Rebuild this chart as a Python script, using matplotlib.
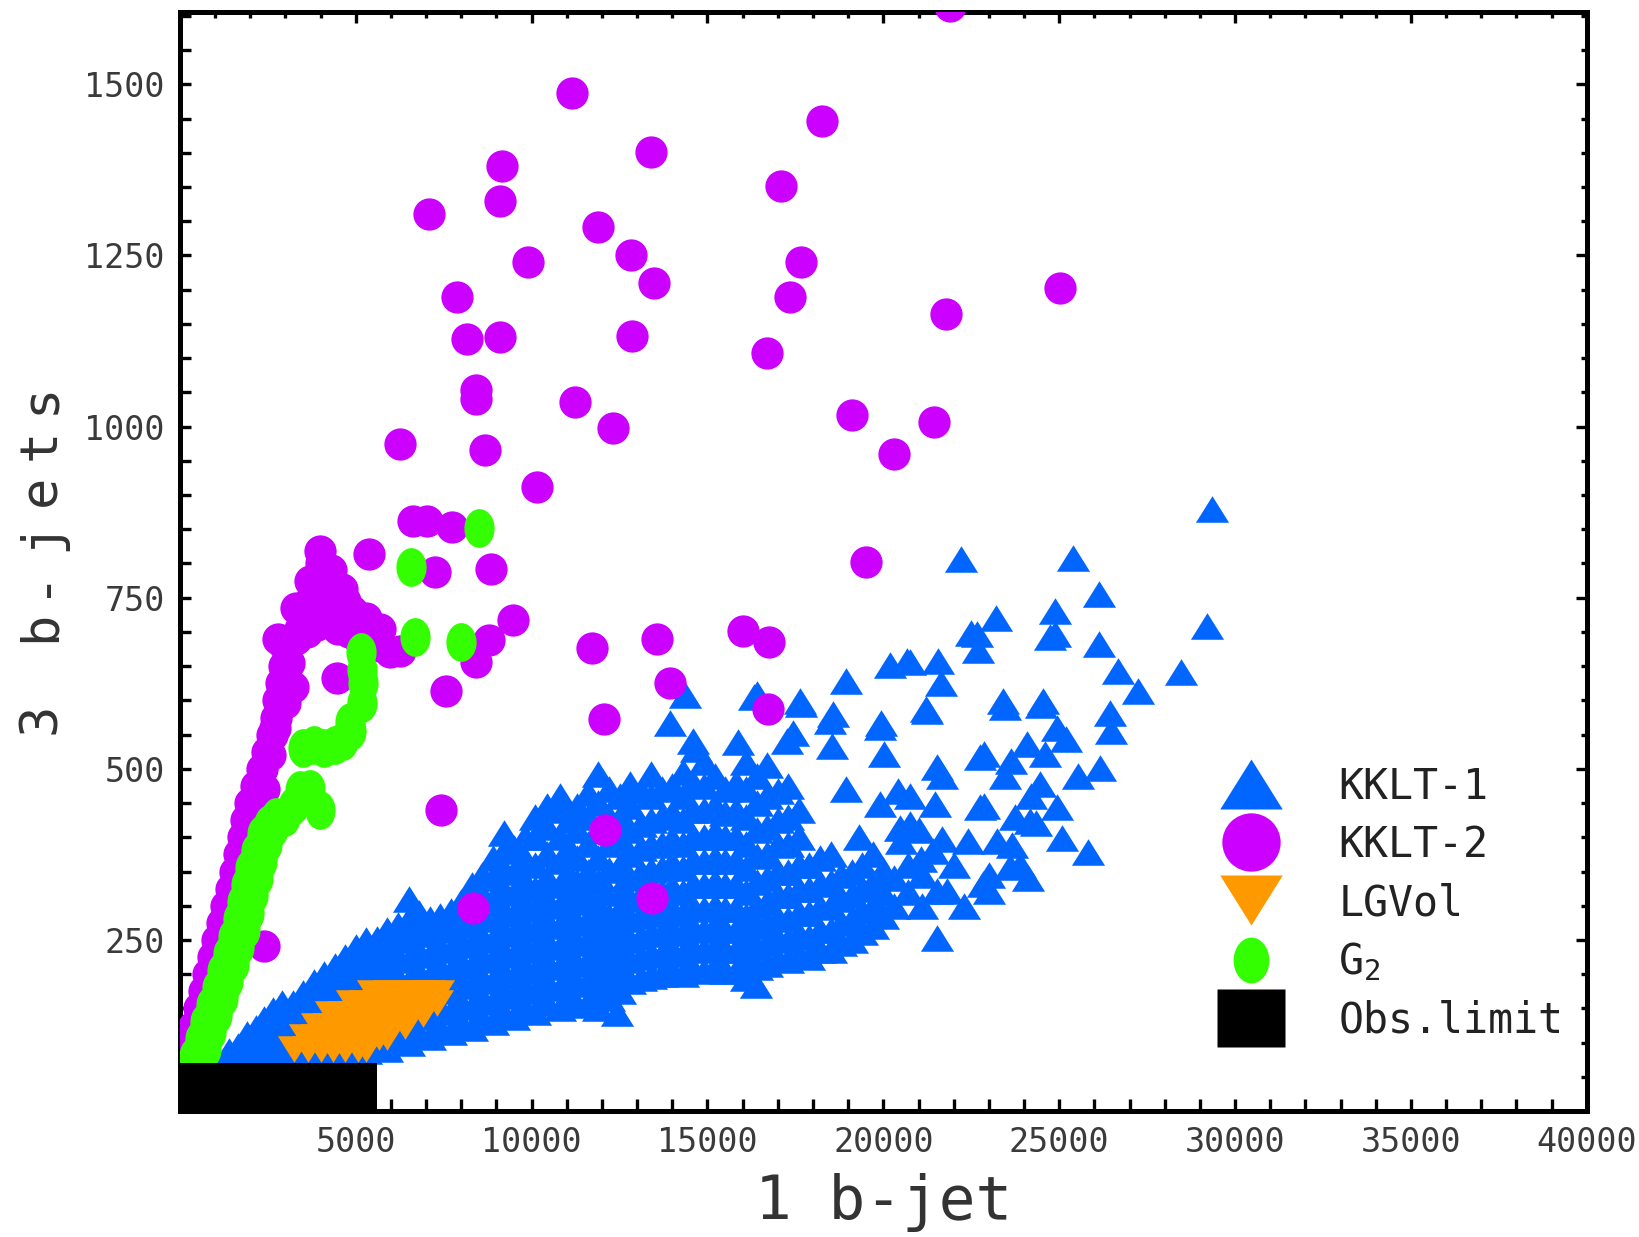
import matplotlib
matplotlib.use("Agg")
import matplotlib.pyplot as plt
import numpy as np
from matplotlib.lines import Line2D
from matplotlib.ticker import MultipleLocator, NullFormatter

plt.rcParams['font.family'] = ['DejaVu Sans Mono']
plt.rcParams['mathtext.fontset'] = 'custom'
plt.rcParams['mathtext.rm'] = 'DejaVu Sans Mono'
plt.rcParams['mathtext.it'] = 'DejaVu Sans Mono'
plt.rcParams['mathtext.bf'] = 'DejaVu Sans Mono:bold'

# colours
BLUE = '#0066ff'
MAGENTA = '#cc00ff'
ORANGE = '#ff9900'
GREEN = '#33ff00'

# KKLT-1, dense part read as columns: (1 b-jet, [3 b-jets ...])
kklt1_cols = [
    (1400, [88]), (1650, [95]),
    (1900, [88, 112]), (2150, [95, 122]),
    (2400, [88, 112, 135]), (2650, [95, 125, 148]),
    (2900, [88, 115, 142, 158]), (3200, [100, 128, 158]),
    (3500, [88, 115, 145, 172]), (3800, [100, 130, 160, 188]),
    (4100, [88, 115, 145, 175, 200]), (4400, [100, 130, 160, 190, 212]),
    (4700, [88, 115, 145, 175, 205, 225]), (5000, [100, 130, 160, 190, 220, 240]),
    (5300, [88, 115, 145, 175, 205, 235, 250]), (5600, [102, 132, 162, 192, 222, 252]),
    (5900, [90, 120, 150, 180, 210, 240, 265]), (6200, [105, 135, 165, 195, 225, 255, 272]),
    (6500, [100, 130, 160, 190, 220, 250, 280, 310]), (6800, [112, 142, 172, 202, 232, 262, 290]),
    (7100, [108, 138, 168, 198, 228, 258, 280]), (7400, [120, 150, 180, 210, 240, 270, 285]),
    (7700, [115, 145, 175, 205, 235, 265, 292]), (8000, [128, 158, 188, 218, 248, 278, 305]),
    (8300, [122, 152, 182, 212, 242, 272, 302, 330]), (8600, [135, 165, 195, 225, 255, 285, 315, 345]),
    (8900, [130, 160, 190, 220, 250, 280, 310, 340, 370]),
    (9200, [142, 172, 202, 232, 262, 292, 322, 352, 380, 406]),
    (9500, [138, 168, 198, 228, 258, 288, 318, 350, 385]),
    (9800, [150, 180, 210, 240, 270, 300, 335, 368, 400]),
    (10100, [145, 175, 205, 235, 265, 295, 325, 360, 400, 430]),
    (10450, [158, 188, 218, 248, 278, 308, 340, 375, 415, 445]),
    (10800, [150, 180, 210, 240, 270, 300, 330, 365, 400, 440, 460]),
    (11050, [162, 192, 222, 252, 282, 312, 345, 385, 425]),
    (11300, [155, 185, 215, 245, 275, 305, 335, 370, 410, 445]),
    (11600, [160, 190, 220, 250, 280, 315, 350, 390, 430, 465]),
    (11900, [150, 180, 210, 240, 270, 300, 335, 370, 410, 450, 492]),
    (12200, [165, 195, 225, 255, 285, 318, 352, 390, 430, 470]),
    (12440, [143]),
    (12500, [175, 205, 235, 265, 295, 325, 360, 395, 430, 460]),
    (12800, [190, 220, 250, 280, 310, 340, 375, 410, 445, 478]),
    (13100, [195, 225, 255, 285, 315, 350, 385, 420, 468]),
    (13400, [198, 228, 258, 288, 320, 352, 388, 425, 460, 492]),
    (13700, [200, 230, 260, 290, 320, 355, 390, 430, 470]),
    (14000, [205, 235, 265, 295, 328, 362, 398, 435, 475]),
    (14300, [200, 230, 260, 290, 320, 355, 390, 425, 460, 495]),
    (14600, [208, 238, 268, 298, 330, 365, 400, 440, 480]),
    (14900, [205, 235, 265, 295, 330, 365, 400, 440, 475, 510]),
    (15200, [210, 240, 270, 300, 335, 370, 408, 445, 490]),
    (15500, [205, 235, 265, 295, 330, 365, 400, 435, 470]),
    (15800, [205, 235, 265, 295, 330, 365, 400, 440, 480]),
    (16100, [195, 225, 255, 285, 320, 355, 390, 430, 470, 510]),
    (16370, [184]),
    (16400, [210, 240, 270, 300, 335, 372, 410, 450, 490]),
    (16700, [215, 245, 275, 305, 340, 375, 415, 460, 505]),
    (17000, [222, 252, 282, 315, 350, 388, 425, 468]),
    (17300, [220, 250, 280, 315, 350, 390, 430, 475]),
    (17600, [228, 258, 290, 325, 360, 400, 440]),
    (17900, [225, 255, 290, 325, 360]),
    (18200, [235, 265, 298, 332, 370]),
    (18500, [235, 265, 300, 335, 375]),
    (18800, [245, 275, 310, 345]),
    (19100, [250, 280, 315, 350]),
    (19400, [262, 292, 325, 360]),
    (19700, [270, 300, 335, 375]),
    (20000, [285, 318, 352]),
]

# KKLT-1, scattered part
kklt1_sparse = [
    (20300, 300), (20300, 340), (20700, 320), (20700, 360), (21100, 300), (21100, 345),
    (21520, 321), (21400, 380), (22000, 360), (20500, 395), (21000, 410),
    (29345, 880), (22200, 807), (25390, 808), (29200, 709), (28450, 642), (26130, 755),
    (24880, 730), (24880, 697), (23210, 720), (22500, 698), (22700, 674), (26130, 682),
    (26670, 643), (27230, 613), (26450, 582), (26480, 556), (26160, 501), (25830, 379),
    (25090, 399), (23660, 389), (21520, 253), (21640, 625), (20770, 656), (20180, 651),
    (18930, 628), (21220, 588), (19940, 567), (20030, 521), (18480, 570), (17650, 594),
    (16310, 605), (17440, 552), (15860, 539), (14370, 608), (13930, 567), (14670, 529),
    (23450, 590), (24490, 593), (24940, 559), (22860, 521), (23450, 490),
    (24190, 460), (23750, 429), (22860, 445), (21670, 490), (20770, 460), (20480, 413),
    (24340, 421), (23900, 360), (23000, 345), (23000, 322), (21820, 322), (21070, 368),
    (21670, 398), (24940, 444), (25540, 490), (24610, 521), (25200, 544),
    (14590, 541), (17260, 541), (20670, 657), (21550, 657), (22660, 697), (24740, 692),
    (16400, 609), (17630, 599), (19900, 561), (18570, 580), (21240, 585), (23400, 599),
    (24540, 599), (24090, 536), (18540, 533), (22750, 517), (21520, 502), (23630, 511),
    (24450, 478), (20410, 468), (21470, 449), (19900, 449), (22750, 444), (24170, 424),
    (20760, 419), (23230, 395), (23600, 356), (22830, 332), (19300, 400), (22300, 300),
    (24100, 340), (22400, 395), (18950, 470),
]

# KKLT-2 (magenta)
kklt2 = [
    # left arc
    (150, 78), (280, 100), (410, 125), (540, 150), (670, 175), (800, 200), (930, 225),
    (1060, 250), (1190, 275), (1320, 300), (1450, 325), (1560, 350), (1670, 375), (1780, 400),
    (1890, 425), (2000, 450), (2160, 475), (2330, 500), (2480, 525), (2620, 550), (2720, 575),
    (2800, 600), (2880, 625), (2950, 650), (2380, 241),
    (2200, 440), (2400, 470), (2550, 520), (2700, 560), (2990, 596), (3200, 620),
    # blob at the top of the arc
    (2800, 690), (3000, 680), (3300, 690), (3600, 700), (3900, 710), (4200, 715), (4500, 705),
    (4800, 700), (5100, 690), (5400, 685), (5700, 680), (5970, 670), (3100, 655), (4460, 633),
    (3300, 735), (3700, 745), (4100, 745), (4500, 740), (4900, 730), (5300, 720), (5700, 705),
    (3600, 740), (3900, 766), (4300, 790), (4000, 800), (3980, 818), (4610, 763), (3810, 758),
    (5370, 814), (6250, 672), (3700, 775), (4200, 760), (4700, 745), (5000, 705), (3400, 705),
    # scattered
    (21900, 1615), (11160, 1488), (18270, 1447), (13390, 1401), (9170, 1381), (9110, 1329),
    (7080, 1311), (17080, 1352), (11900, 1291), (9910, 1240), (12830, 1250), (17650, 1240),
    (13480, 1210), (25030, 1203), (7890, 1190), (17350, 1190), (21780, 1165), (8150, 1128),
    (9110, 1131), (12860, 1133), (16700, 1108), (8420, 1053), (8420, 1041), (11220, 1036),
    (12320, 998), (6250, 975), (8660, 966), (19110, 1017), (21430, 1006), (20300, 960),
    (10150, 912), (6640, 862), (7020, 862), (7740, 853), (7260, 787), (8840, 792),
    (19520, 802), (9460, 718), (8780, 688), (8420, 656), (11730, 677), (13570, 689),
    (16010, 701), (16760, 686), (7560, 613), (13930, 625), (12050, 573), (16730, 587),
    (7410, 440), (12080, 411), (8330, 296), (13420, 311),
]

# LGVol (orange), rows: (3 b-jets, [1 b-jet ...])
lgvol_rows = [
    (90, [3250, 3650, 4000, 4350, 4700, 5050, 5300]),
    (108, [3550, 3900, 4250, 4600, 4950, 5300, 5650, 5900]),
    (125, [3900, 4250, 4600, 4950, 5300, 5650, 6000, 6400]),
    (142, [4300, 4650, 5000, 5350, 5700, 6050, 6400, 6900]),
    (158, [4900, 5250, 5600, 5950, 6300, 6650, 7000, 7300]),
    (172, [5500, 5950, 6400, 6800, 7080, 7350]),
]

# G2 (green)
g2 = [
    (400, 80), (560, 105), (720, 130), (880, 155), (1040, 180), (1200, 205), (1360, 230),
    (1520, 255), (1640, 280), (1760, 305), (1880, 330), (2000, 355), (2150, 380),
    (2320, 405), (2520, 420), (2720, 430), (3000, 430), (3200, 445), (3450, 460),
    (730, 90), (890, 115), (1050, 140), (1210, 165), (1370, 190), (1530, 215), (1690, 240),
    (1850, 265), (1970, 290), (2090, 315), (2210, 340), (2330, 365), (2480, 390), (2650, 412),
    (3410, 469), (3980, 440), (3700, 470), (3500, 530), (3800, 535), (4100, 530), (4400, 535),
    (4650, 540), (4850, 555), (4830, 568), (5170, 596), (5200, 625), (5170, 644), (5150, 670),
    (6570, 795), (6680, 693), (7990, 685), (8500, 852),
]

# observational limit box (width in 1 b-jet, height in 3 b-jets)
obs_limit = (5600, 70)

labels = ['KKLT-1', 'KKLT-2', 'LGVol', 'G$_2$', 'Obs.limit']
x_ticks = [5000, 10000, 15000, 20000, 25000, 30000, 35000, 40000]
y_ticks = [250, 500, 750, 1000, 1250, 1500]

kklt1 = np.array([(x, y) for x, ys in kklt1_cols for y in ys] + kklt1_sparse)
kklt2 = np.array(kklt2)
lgvol = np.array([(x, y) for y, xs in lgvol_rows for x in xs])
g2 = np.array(g2)

# marker shapes
tri_up = [(-1, -0.8), (1, -0.8), (0, 0.8)]
tri_down = [(-1, 0.8), (1, 0.8), (0, -0.8)]
t = np.linspace(0, 2 * np.pi, 40)
ellipse = list(zip(0.78 * np.cos(t), np.sin(t)))
rect = [(-1, -0.85), (1, -0.85), (1, 0.85), (-1, 0.85)]

fig = plt.figure(figsize=(16.39, 12.37), dpi=100)
ax = fig.add_axes([0.1098, 0.1018, 0.8583, 0.8881])

ax.scatter(kklt1[:, 0], kklt1[:, 1], s=570, marker=tri_up, c=BLUE, linewidths=0, zorder=2)
ax.scatter(kklt2[:, 0], kklt2[:, 1], s=540, marker='o', c=MAGENTA, linewidths=0, zorder=3)
ax.scatter(lgvol[:, 0], lgvol[:, 1], s=570, marker=tri_down, c=ORANGE, linewidths=0, zorder=4)
ax.scatter(g2[:, 0], g2[:, 1], s=780, marker=ellipse, c=GREEN, linewidths=0, zorder=4.5)
ax.bar(0, obs_limit[1], width=obs_limit[0], align='edge', color='black', zorder=5)

ax.set_xlim(0, 40000)
ax.set_ylim(0, 1605)

for sp in ax.spines.values():
    sp.set_linewidth(3.6)

tick_font = dict(family='DejaVu Sans Mono', size=24, color='#3a3a3a')
ax.set_xticks(x_ticks)
ax.set_xticklabels([str(v) for v in x_ticks], **tick_font)
ax.set_yticks(y_ticks)
ax.set_yticklabels([str(v) for v in y_ticks], **tick_font)
ax.xaxis.set_minor_locator(MultipleLocator(1000))
ax.yaxis.set_minor_locator(MultipleLocator(50))
ax.tick_params(which='both', direction='in', top=False, right=False, width=2.4)
ax.tick_params(axis='x', which='both', length=8.5, pad=11)
ax.tick_params(axis='y', which='both', length=8, pad=11)

# top and right ticks: long on labelled values, short in between
sec_x = ax.secondary_xaxis('top')
sec_x.set_xticks(x_ticks)
sec_x.xaxis.set_minor_locator(MultipleLocator(1000))
sec_x.xaxis.set_major_formatter(NullFormatter())
sec_x.tick_params(which='major', direction='in', length=8, width=2.4)
sec_x.tick_params(which='minor', direction='in', length=4.5, width=2.4)
sec_x.spines['top'].set_linewidth(3.6)

sec_y = ax.secondary_yaxis('right')
sec_y.set_yticks(y_ticks)
sec_y.yaxis.set_minor_locator(MultipleLocator(50))
sec_y.yaxis.set_major_formatter(NullFormatter())
sec_y.tick_params(which='major', direction='in', length=8, width=2.4)
sec_y.tick_params(which='minor', direction='in', length=4.5, width=2.4)
sec_y.spines['right'].set_linewidth(3.6)

ax.set_xlabel('1 b-jet', family='DejaVu Sans Mono', size=44, color='#333333', labelpad=9.5)

# the y label in the original is widely letter-spaced: set it one glyph at a time
ylab = '3 b-jets'
for k, ch in enumerate(ylab):
    fig.text(0.0336, 1 - (718 - k * 45.6) / 1237, ch, rotation=90, rotation_mode='anchor',
             ha='center', va='baseline', size=37.5, family='DejaVu Sans Mono', color='#333333')

handles = [
    Line2D([], [], ls='none', marker=tri_up, ms=45, mfc=BLUE, mec='none'),
    Line2D([], [], ls='none', marker='o', ms=42, mfc=MAGENTA, mec='none'),
    Line2D([], [], ls='none', marker=tri_down, ms=45, mfc=ORANGE, mec='none'),
    Line2D([], [], ls='none', marker=ellipse, ms=33, mfc=GREEN, mec='none'),
    Line2D([], [], ls='none', marker=rect, ms=49, mfc='black', mec='none'),
]
leg = ax.legend(handles, labels, loc='upper left', bbox_to_anchor=(0.7315, 0.3145),
                frameon=False, borderpad=0, borderaxespad=0, handlelength=2.0,
                handletextpad=1.1, labelspacing=0.39,
                prop={'family': 'DejaVu Sans Mono', 'size': 30})
for txt in leg.get_texts():
    txt.set_color('#222222')

fig.savefig('out.png', dpi=100)
